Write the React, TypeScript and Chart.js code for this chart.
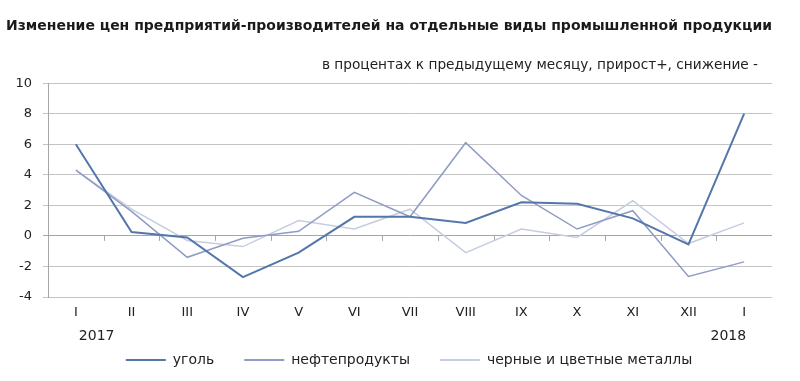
import React, { useEffect, useRef } from "react";
import { Chart, registerables } from "chart.js";

Chart.register(...registerables);

const months = ["I", "II", "III", "IV", "V", "VI", "VII", "VIII", "IX", "X", "XI", "XII", "I"];
const years = ["2017", "2018"];
const coal = [6.0, 0.25, -0.1, -2.7, -1.1, 1.25, 1.25, 0.85, 2.2, 2.1, 1.15, -0.55, 8.0];
const petroleum = [4.3, 1.6, -1.4, -0.15, 0.3, 2.85, 1.25, 6.1, 2.65, 0.45, 1.65, -2.65, -1.7];
const metals = [4.3, 1.75, -0.3, -0.7, 1.0, 0.45, 1.75, -1.1, 0.45, -0.1, 2.3, -0.5, 0.85];
const seriesNames = ["уголь", "нефтепродукты", "черные и цветные металлы"];
const titleText = "Изменение цен предприятий-производителей на отдельные виды промышленной продукции";
const subtitleText = "в процентах к предыдущему месяцу, прирост+, снижение -";

const FONT = "'DejaVu Sans', sans-serif";

const extrasPlugin = {
  id: "extras",
  afterLayout(chart: any) {
    if (chart.legend) {
      chart.legend.left += 20;
      chart.legend.right += 20;
    }
  },
  beforeDatasetsDraw(chart: any) {
    const { ctx, scales } = chart;
    const x = scales.x;
    const y = scales.y;
    const y0 = y.getPixelForValue(0);
    ctx.save();
    ctx.strokeStyle = "#a6a6a6";
    ctx.lineWidth = 1;
    ctx.beginPath();
    for (let i = 1; i < months.length; i++) {
      const px = Math.round((x.getPixelForValue(i - 1) + x.getPixelForValue(i)) / 2) + 0.5;
      ctx.moveTo(px, y0);
      ctx.lineTo(px, y0 + 5);
    }
    ctx.stroke();
    ctx.restore();
  },
  afterDraw(chart: any) {
    const { ctx, scales, chartArea } = chart;
    const x = scales.x;
    ctx.save();
    ctx.fillStyle = "#222";
    ctx.font = "14px " + FONT;
    ctx.textBaseline = "middle";
    ctx.textAlign = "left";
    ctx.fillText(years[0], x.getPixelForValue(0) + 3, 336);
    ctx.textAlign = "right";
    ctx.fillText(years[1], x.getPixelForValue(months.length - 1) + 2, 336);
    ctx.font = "13.7px " + FONT;
    ctx.fillText(subtitleText, chartArea.right - 14, 65);
    ctx.restore();
  },
};

export default function App() {
  const ref = useRef<HTMLCanvasElement>(null);
  useEffect(() => {
    document.body.style.margin = "0";
    const chart = new Chart(ref.current!, {
      type: "line",
      data: {
        labels: months,
        datasets: [
          { label: seriesNames[0], data: coal, borderColor: "#5376ab", backgroundColor: "#5376ab", borderWidth: 2, pointRadius: 0, tension: 0 },
          { label: seriesNames[1], data: petroleum, borderColor: "#8e9cc6", backgroundColor: "#8e9cc6", borderWidth: 1.5, pointRadius: 0, tension: 0 },
          { label: seriesNames[2], data: metals, borderColor: "#c6cde2", backgroundColor: "#c6cde2", borderWidth: 1.5, pointRadius: 0, tension: 0 },
        ],
      },
      options: {
        animation: false,
        responsive: false,
        layout: { padding: { left: 6, right: 28, top: 0, bottom: 4 } },
        plugins: {
          title: {
            display: true,
            text: titleText,
            align: "start",
            color: "#1a1a1a",
            font: { family: FONT, size: 14.3, weight: "bold" },
            padding: { top: 17.4, bottom: 48.6 },
          },
          legend: {
            display: true,
            position: "bottom",
            labels: {
              boxWidth: 40,
              boxHeight: 2,
              padding: 30,
              color: "#222",
              font: { family: FONT, size: 14 },
              generateLabels: (chart: any) =>
                chart.data.datasets.map((ds: any, i: number) => ({
                  text: ds.label,
                  fillStyle: ds.borderColor,
                  strokeStyle: ds.borderColor,
                  lineWidth: 0,
                  datasetIndex: i,
                  fontColor: "#222",
                })),
            },
          },
          tooltip: { enabled: false },
        },
        scales: {
          x: {
            offset: true,
            grid: { display: false, tickLength: 0 },
            border: { display: false },
            ticks: { color: "#222", font: { family: FONT, size: 13 }, padding: 8, maxRotation: 0, autoSkip: false },
            afterFit: (s: any) => { s.height = 26; },
          },
          y: {
            min: -4,
            max: 10,
            ticks: { stepSize: 2, color: "#222", font: { family: FONT, size: 13 }, padding: 11 },
            grid: {
              color: (c: any) => (c.tick && c.tick.value === 0 ? "#a6a6a6" : "#c4c4c4"),
              tickLength: 5,
              lineWidth: 1,
            },
            border: { display: true, color: "#a6a6a6" },
            afterFit: (s: any) => { s.width = 42; },
          },
        },
      },
      plugins: [extrasPlugin],
    } as any);
    return () => chart.destroy();
  }, []);
  return (
    <div style={{ width: 800, height: 381 }}>
      <canvas ref={ref} width={800} height={381} />
    </div>
  );
}
